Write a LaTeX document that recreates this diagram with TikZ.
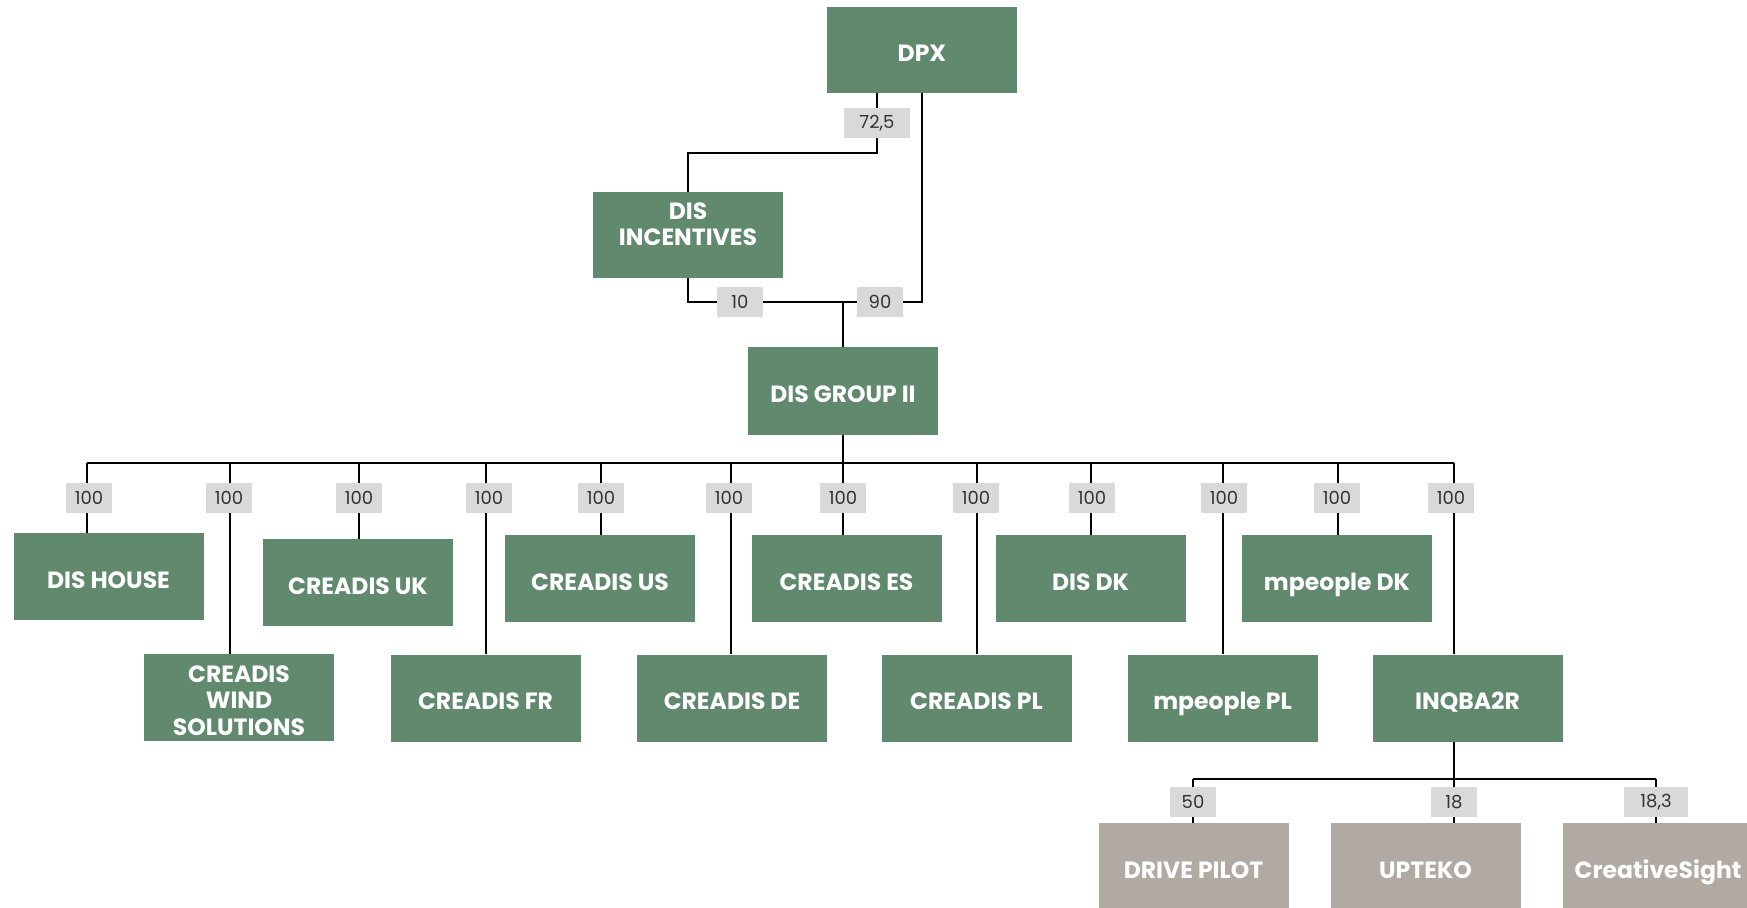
\documentclass[tikz,border=0pt]{standalone}
\usepackage{fontspec}
\setmainfont{Poppins}
\definecolor{boxgreen}{RGB}{97,137,109}
\definecolor{boxtaupe}{RGB}{176,170,162}
\definecolor{pctgray}{RGB}{217,217,217}
\tikzset{
  gbase/.style={fill=boxgreen, text=white, font=\fontsize{23.5}{26.5}\selectfont\bfseries, minimum width=190, minimum height=87, inner sep=0, align=center},
  gbox/.style={gbase, text height=23pt, text depth=0pt},
  tbox/.style={gbox, fill=boxtaupe},
  pct/.style={fill=pctgray, text=black!80, font=\fontsize{18}{20}\selectfont, minimum width=46, minimum height=30, inner sep=0},
  link/.style={draw=black, line width=1.6}
}
\begin{document}
\begin{tikzpicture}[x=1pt,y=-1pt]
\useasboundingbox (0,0) rectangle (1747,907);
% top level
\node[gbox, minimum height=86] (dpx) at (922,50) {DPX};
\node[gbase, minimum height=86, text depth=22pt] (disinc) at (688,235) {DIS\\INCENTIVES};
\node[gbox, minimum height=88] (disg) at (843,391) {DIS GROUP II};
\node[pct, minimum width=66] (l725) at (877,123) {72,5};
\node[pct] (l10) at (740,302) {10};
\node[pct] (l90) at (880,302) {90};
\coordinate (k1) at (877,153);
\draw[link] (l725.north |- dpx.south) -- (l725.north);
\draw[link] (l725.south) -- (k1) -| (disinc.north);
\draw[link] (dpx.south) |- (l90.east);
\draw[link] (disinc.south) |- (l10.west);
\draw[link] (l10.east) -- (l90.west);
\draw[link] (disg.north |- l10.east) -- (disg.north);
% subsidiaries
\node[gbox] (dishouse) at (108.5,576.5) {DIS HOUSE};
\node[gbase, text depth=0pt, text height=75pt] (cwind) at (239,697.5) {CREADIS\\WIND\\SOLUTIONS};
\node[gbox] (cuk) at (358,582.5) {CREADIS UK};
\node[gbox] (cfr) at (485.5,698) {CREADIS FR};
\node[gbox] (cus) at (600,578.5) {CREADIS US};
\node[gbox] (cde) at (732,698) {CREADIS DE};
\node[gbox] (ces) at (846.5,578.5) {CREADIS ES};
\node[gbox] (cpl) at (976.5,698) {CREADIS PL};
\node[gbox] (disdk) at (1090.5,578.5) {DIS DK};
\node[gbox] (mpl) at (1222.5,698) {mpeople PL};
\node[gbox] (mdk) at (1337,578.5) {mpeople DK};
\node[gbox] (inq) at (1467.5,698) {INQBA2R};
% percentage labels
\node[pct] (p1) at (89,498) {100};
\node[pct] (p2) at (229,498) {100};
\node[pct] (p3) at (359,498) {100};
\node[pct] (p4) at (489,498) {100};
\node[pct] (p5) at (601,498) {100};
\node[pct] (p6) at (729,498) {100};
\node[pct] (p7) at (843,498) {100};
\node[pct] (p8) at (976,498) {100};
\node[pct] (p9) at (1092,498) {100};
\node[pct] (p10) at (1224,498) {100};
\node[pct] (p11) at (1337,498) {100};
\node[pct] (p12) at (1451,498) {100};
\coordinate (busL) at (87,463);
\coordinate (busR) at (1454,463);
\draw[link] (busL) -- (busR);
\draw[link] (disg.south) -- (disg.south |- busL);
\foreach \p/\x/\b in {p1/87/dishouse,p2/230/cwind,p3/359/cuk,p4/486/cfr,p5/601/cus,p6/731/cde,p7/843/ces,p8/977/cpl,p9/1091/disdk,p10/1223/mpl,p11/1338/mdk,p12/1454/inq}{
  \draw[link] (\x,0 |- busL) -- (\x,0 |- \p.north);
  \draw[link] (\x,0 |- \p.south) -- (\x,0 |- \b.north);
}
% INQBA2R holdings
\node[tbox] (drive) at (1193.5,866.5) {DRIVE PILOT};
\node[tbox] (upteko) at (1425.5,866.5) {UPTEKO};
\node[tbox] (csight) at (1658,866.5) {CreativeSight};
\node[pct] (q1) at (1193,802) {50};
\node[pct] (q2) at (1454,802) {18};
\node[pct, minimum width=64] (q3) at (1656,802) {18,3};
\coordinate (bbL) at (1193,779);
\coordinate (bbR) at (1656,779);
\draw[link] (bbL) -- (bbR);
\draw[link] (inq.south -| busR) -- (bbL -| busR);
\foreach \q/\b in {q1/drive,q2/upteko,q3/csight}{
  \draw[link] (\q.north |- bbL) -- (\q.north);
  \draw[link] (\q.south) -- (\q.south |- \b.north);
}
\end{tikzpicture}
\end{document}
